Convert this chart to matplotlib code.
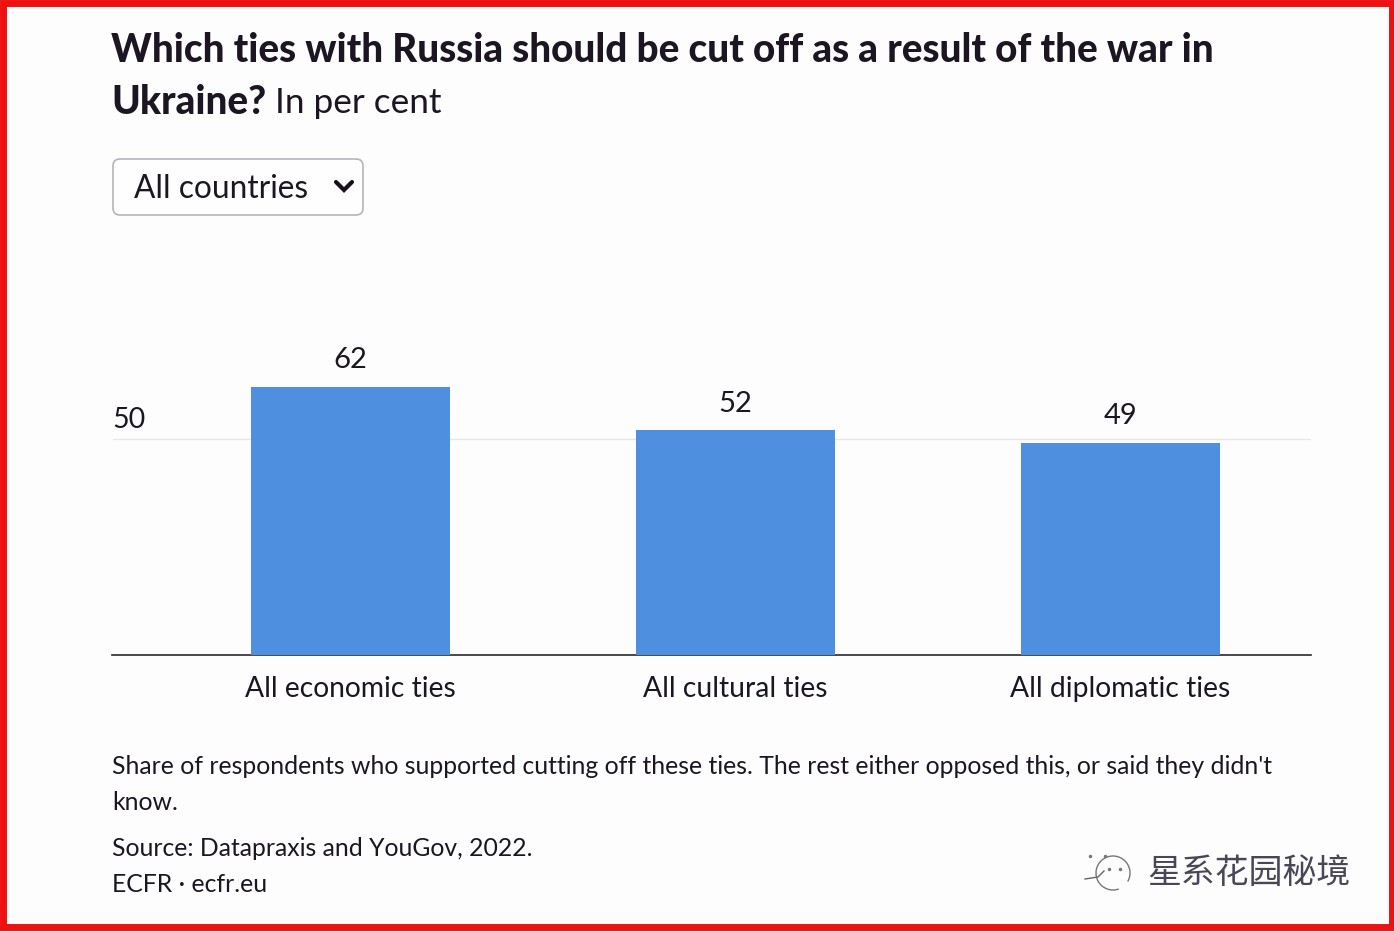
import matplotlib
matplotlib.use("Agg")
import matplotlib.pyplot as plt
from matplotlib.patches import FancyBboxPatch, Rectangle, Arc

categories = ["All economic ties", "All cultural ties", "All diplomatic ties"]
values = [62, 52, 49]
y_ticks = [50]

W, H = 1394, 932
BLUE = "#4f8fe0"
INK = "#1c1622"

plt.rcParams["font.family"] = ["Lato", "DejaVu Sans"]

fig = plt.figure(figsize=(W / 100, H / 100), dpi=100, facecolor="#fdfdfe")

# chart area, 0 sits on the baseline
ax = fig.add_axes([112.5 / W, 1 - 655 / H, (1311 - 112.5) / W, (655 - 300) / H])
ax.set_facecolor("none")
xs = range(len(categories))
ax.bar(xs, values, width=0.517, color=BLUE, zorder=3)
ax.set_xlim(-0.618, 2.496)
ax.set_ylim(0, 82.2)
for t in y_ticks:
    ax.axhline(t, color="#e6e8ec", lw=1, zorder=1)
for x, v in zip(xs, values):
    ax.annotate(str(v), (x, v), xytext=(0, 10), textcoords="offset points",
                ha="center", va="bottom", fontsize=21, color=INK)
for s in ["top", "left", "right"]:
    ax.spines[s].set_visible(False)
ax.spines["bottom"].set_color("#2a2a2e")
ax.spines["bottom"].set_linewidth(1.2)
ax.set_yticks([])
ax.set_xticks(list(xs), categories, fontsize=20.3, color=INK)
ax.tick_params(axis="x", length=0, pad=15)

# everything outside the chart, placed in image pixels
overlay = fig.add_axes([0, 0, 1, 1], facecolor="none")
overlay.set_xlim(0, W)
overlay.set_ylim(H, 0)
overlay.axis("off")

def label(px, py, s, size, **kw):
    kw.setdefault("color", INK)
    return overlay.text(px, py, s, fontsize=size, va="center", ha="left", **kw)

label(112, 420, str(y_ticks[0]), 20.5)

# title
label(111, 51, "Which ties with Russia should be cut off as a result of the war in",
      27.8, fontweight="black")
label(111, 103, "Ukraine?", 27.8, fontweight="black")
label(275, 103, "In per cent", 25.3)

# dropdown
overlay.add_patch(FancyBboxPatch((113, 159), 250, 56, boxstyle="round,pad=0,rounding_size=7",
                                 fc="#fefefe", ec="#b4b4bc", lw=1.2))
overlay.plot([336, 344, 352], [182, 190, 182], color="#15101a", lw=3,
             solid_capstyle="round", solid_joinstyle="miter")
label(134, 189, "All countries", 22.8)

# notes
label(112, 766, "Share of respondents who supported cutting off these ties. "
      "The rest either opposed this, or said they didn't", 17.85)
label(112, 802, "know.", 17.85)
label(112, 848, "Source: Datapraxis and YouGov, 2022.", 17.85)
label(112, 884, "ECFR · ecfr.eu", 17.85)

# watermark
overlay.add_patch(Arc((1113, 873), 34, 34, theta1=70, theta2=30, color="#777777", lw=1))
overlay.plot([1085, 1098, 1104], [879, 877, 871], color="#666666", lw=1)
overlay.plot([1090, 1105, 1109, 1120], [856, 856, 869, 869], ls="none", marker="o", ms=1.5, color="#777777")
label(1147, 873, "星系花园秘境", 24.4, color="#4a4658",
      family=["Noto Sans CJK SC", "DejaVu Sans"])

# red frame
overlay.add_patch(Rectangle((2.5, 2.5), W - 5, H - 8, fc="none", ec="#ee1111", lw=5, clip_on=False))

fig.savefig("out.png", dpi=100, facecolor=fig.get_facecolor())
